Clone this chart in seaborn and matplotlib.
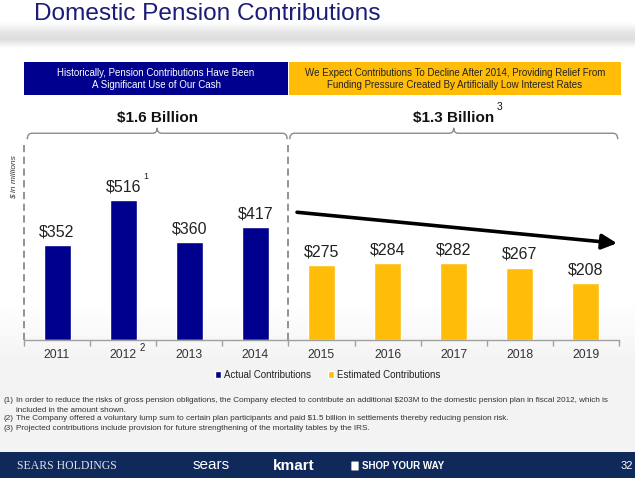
import numpy as np
import pandas as pd
import matplotlib
matplotlib.use('Agg')
import matplotlib.pyplot as plt
import matplotlib.patches as mpatches
from matplotlib.path import Path
from matplotlib.ticker import FixedLocator
import seaborn as sns

# chart data
years = ['2011', '2012', '2013', '2014', '2015', '2016', '2017', '2018', '2019']
contributions = [352, 516, 360, 417, 275, 284, 282, 267, 208]
kinds = ['Actual Contributions'] * 4 + ['Estimated Contributions'] * 5
period_labels = ['$1.6 Billion', '$1.3 Billion']
period_first = [0, 4]
period_last = [3, 8]
header_texts = ['Historically, Pension Contributions Have Been\nA Significant Use of Our Cash',
                'We Expect Contributions To Decline After 2014, Providing Relief From\n'
                'Funding Pressure Created By Artificially Low Interest Rates']
footnotes = [
    ('(1)', 'In order to reduce the risks of gross pension obligations, the Company elected to contribute an additional $203M to the domestic pension plan in fiscal 2012, which is'),
    ('', 'included in the amount shown.'),
    ('(2)', 'The Company offered a voluntary lump sum to certain plan participants and paid $1.5 billion in settlements thereby reducing pension risk.'),
    ('(3)', 'Projected contributions include provision for future strengthening of the mortality tables by the IRS.'),
]

NAVY = '#00008f'
GOLD = '#ffbd0a'
W, H = 635, 478

sns.set_theme(style='white')
plt.rcParams['font.family'] = ['Liberation Sans', 'DejaVu Sans']

df = pd.DataFrame({'year': years, 'value': contributions, 'kind': kinds})

fig = plt.figure(figsize=(W / 100, H / 100), dpi=100)
fig.patch.set_facecolor('white')


def fx(px):
    return px / W


def fy(py):
    return 1 - py / H


# background shading (grey swoosh under the title, light grey towards the bottom)
bg = fig.add_axes([0, 0, 1, 1], zorder=-10)
rows = np.arange(H)
shade = np.interp(rows, [0, 22, 32, 39, 48, 300, 360, 452, 478],
                  [1, 1, 0.9, 0.87, 1, 1, 0.955, 0.95, 0.95])
bg.imshow(np.tile(shade[:, None], (1, 10)), cmap='gray', vmin=0, vmax=1,
          aspect='auto', extent=[0, 1, 0, 1])
bg.axis('off')

# main axes
ax = fig.add_axes([fx(24), 138.5 / H, fx(595), 199.5 / H])
ax.patch.set_alpha(0)
sns.barplot(data=df, x='year', y='value', hue='kind', palette=[NAVY, GOLD],
            dodge=False, width=0.41, saturation=1, ax=ax)
ax.set_xlim(-0.5, 8.5)
ax.set_ylim(0, 740)
ax.set_xlabel('')
ax.set_ylabel('')
ax.set_yticks([])
sns.despine(ax=ax, left=True)
ax.spines['bottom'].set_color('#a0a0a0')
ax.spines['bottom'].set_linewidth(1)
ax.xaxis.set_minor_locator(FixedLocator(np.arange(-0.5, 9, 1)))
ax.tick_params(axis='x', which='major', length=0, pad=7, labelsize=8.8, labelcolor='#333333')
ax.tick_params(axis='x', which='minor', length=4, color='#a0a0a0', width=1, direction='out', bottom=True)

# value labels
for i, v in enumerate(contributions):
    ax.annotate(f'${v}', (i, v), xytext=(0, 4), textcoords='offset points',
                ha='center', va='bottom', fontsize=11.5, color='#222222')

# footnote marks
ax.annotate('1', (1, contributions[1]), xytext=(16, 17), textcoords='offset points',
            ha='center', va='center', fontsize=6.5, color='#222222')
ax.annotate('2', (1, 0), xytext=(14, -6), textcoords='offset points',
            ha='center', va='center', fontsize=7, color='#222222', annotation_clip=False)

# dashed period separators
for xb in [-0.5, 3.5]:
    ax.axvline(xb, ymin=0, ymax=728 / 740, ls=(0, (4, 2.5)), color='#8a8a8a', lw=1.3, clip_on=False)


def brace(ax, x0, x1, y_end, y_line, y_tip, dx=0.07):
    xm = (x0 + x1) / 2
    verts = [(x0, y_end), (x0, y_line), (x0 + dx, y_line),
             (xm - dx, y_line), (xm, y_line), (xm, y_tip),
             (xm, y_line), (xm + dx, y_line),
             (x1 - dx, y_line), (x1, y_line), (x1, y_end)]
    codes = [Path.MOVETO, Path.CURVE3, Path.CURVE3,
             Path.LINETO, Path.CURVE3, Path.CURVE3,
             Path.CURVE3, Path.CURVE3,
             Path.LINETO, Path.CURVE3, Path.CURVE3]
    ax.add_patch(mpatches.PathPatch(Path(verts, codes), fill=False, color='#8a8a8a',
                                    lw=1, clip_on=False))
    return xm


for lab, a, b in zip(period_labels, period_first, period_last):
    x0 = a - 0.45 if a == 0 else a - 0.48
    x1 = b + 0.48
    xm = brace(ax, x0, x1, 743, 765, 785)
    ax.text(xm, 820, lab, ha='center', va='center', fontsize=11, weight='bold',
            color='#111111', clip_on=False)
ax.annotate('3', (6, 820), xytext=(33, 8), textcoords='offset points', ha='center',
            va='center', fontsize=7.5, color='#111111', annotation_clip=False)

# decline arrow
ax.annotate('', xy=(8.47, 357), xytext=(3.63, 472),
            arrowprops=dict(arrowstyle='-|>,head_length=0.6,head_width=0.3',
                            lw=2.6, color='black', mutation_scale=15, shrinkA=0, shrinkB=0))

# legend
handles, labels = ax.get_legend_handles_labels()
ax.legend(handles, labels, loc='center', bbox_to_anchor=(fx(327.5), fy(375)),
          bbox_transform=fig.transFigure, ncol=2, frameon=False, fontsize=7,
          handlelength=0.6, handleheight=0.6, handletextpad=0.3, columnspacing=1.8,
          labelcolor='#222222')

# y unit note
fig.text(fx(14), fy(177), '$ in millions', rotation=90, fontsize=6, style='italic',
         ha='center', va='center', color='#333333')

# title
fig.text(fx(34), fy(20), 'Domestic Pension Contributions', fontsize=17.6, color='#1b1b78',
         va='baseline', ha='left')

# header boxes
fig.patches.append(mpatches.Rectangle((fx(24), fy(95)), fx(264), 33 / H, transform=fig.transFigure,
                                      facecolor=NAVY, edgecolor='none'))
fig.patches.append(mpatches.Rectangle((fx(289), fy(95)), fx(332), 33 / H, transform=fig.transFigure,
                                      facecolor=GOLD, edgecolor='none'))
fig.text(fx(156), fy(79), header_texts[0], ha='center', va='center', fontsize=7,
         color='white', linespacing=1.35)
fig.text(fx(455), fy(79), header_texts[1], ha='center', va='center', fontsize=7,
         color='#222222', linespacing=1.35)

# footnotes
for (num, txt), ypx in zip(footnotes, [400, 410, 419, 428]):
    if num:
        fig.text(fx(3), fy(ypx), num, fontsize=5.9, color='#333333', va='center')
    fig.text(fx(16), fy(ypx), txt, fontsize=5.9, color='#333333', va='center')

# footer band
fig.patches.append(mpatches.Rectangle((0, 0), 1, 26 / H, transform=fig.transFigure,
                                      facecolor='#10295b', edgecolor='none'))
fig.text(fx(17), fy(466), 'SEARS HOLDINGS', family=['Liberation Serif', 'DejaVu Serif'],
         fontsize=8.5, color='#dde2ea', va='center')
fig.text(fx(193), fy(465), 'sears', fontsize=11, color='white', va='center')
fig.text(fx(273), fy(466), 'kmart', fontsize=11, weight='bold', color='white', va='center')
fig.patches.append(mpatches.FancyBboxPatch((fx(352), fy(470)), fx(6), 8 / H, transform=fig.transFigure,
                                           boxstyle='round,pad=0.001', facecolor='white', edgecolor='none'))
fig.text(fx(362), fy(466), 'SHOP YOUR WAY', fontsize=7, weight='bold', color='white', va='center')
fig.text(fx(633), fy(466), '32', fontsize=8, color='white', va='center', ha='right')

fig.savefig('out.png', dpi=100)
